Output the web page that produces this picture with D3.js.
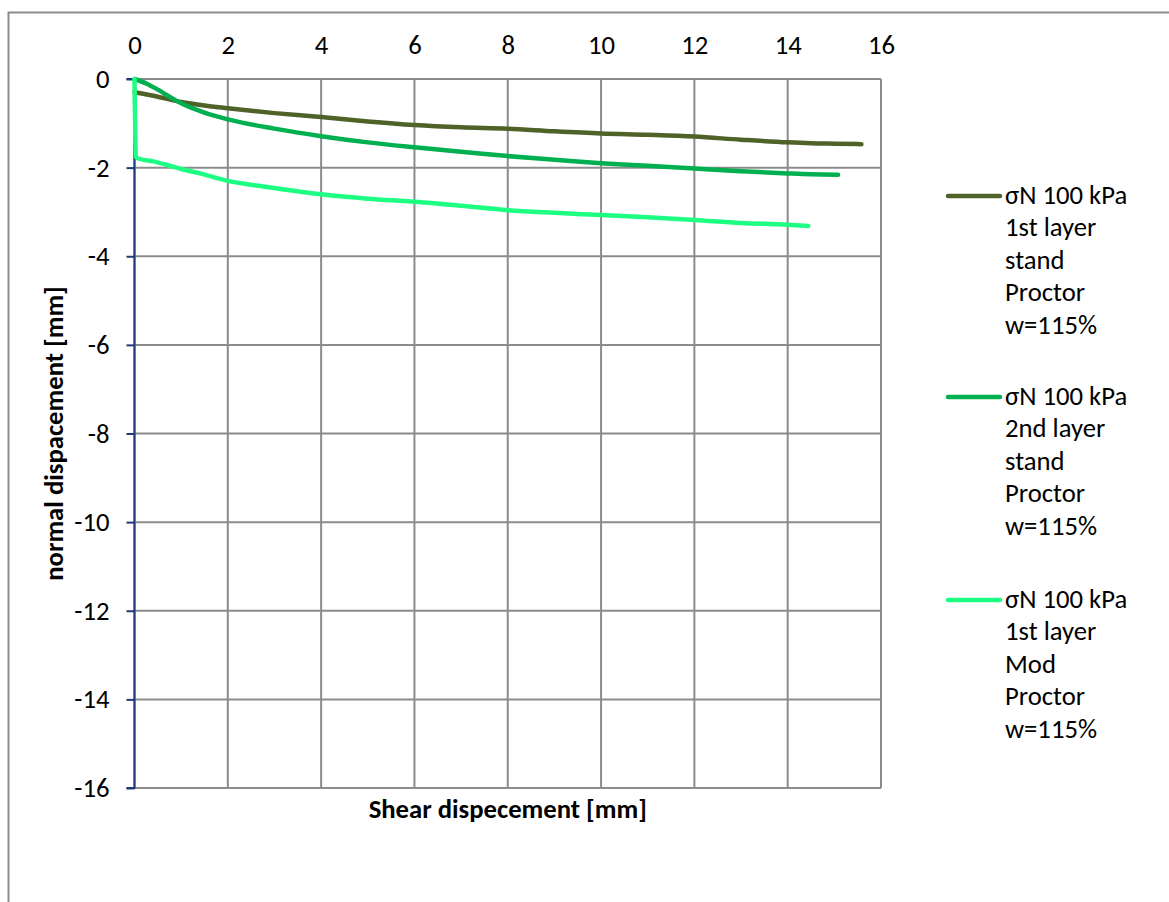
<!DOCTYPE html>
<html>
<head>
<meta charset="utf-8">
<script src="https://cdn.jsdelivr.net/npm/d3@7"></script>
<style>
  html, body { margin: 0; padding: 0; background: #fff; }
  svg { display: block; }
  text { font-family: Carlito, "Open Sans", Lato, sans-serif; fill: #000; }
</style>
</head>
<body>
<svg id="chart" width="1169" height="902"></svg>
<script>
// Shear displacement [mm] vs normal displacement [mm], three direct shear tests
const xTicks = [0, 2, 4, 6, 8, 10, 12, 14, 16];
const yTicks = [0, -2, -4, -6, -8, -10, -12, -14, -16];

const s1x = [0, 0.5, 1, 1.5, 2, 3, 4, 5, 6, 7, 8, 9, 10, 11, 12, 13, 14, 14.5, 15, 15.58];
const s1y = [-0.30, -0.40, -0.52, -0.60, -0.66, -0.77, -0.86, -0.96, -1.04, -1.09, -1.12, -1.18, -1.23, -1.26, -1.30, -1.37, -1.43, -1.45, -1.46, -1.47];

const s2x = [0, 0.25, 0.5, 0.75, 1, 1.5, 2, 3, 4, 5, 6, 7, 8, 9, 10, 11, 12, 13, 14, 14.5, 15.08];
const s2y = [0, -0.10, -0.24, -0.40, -0.55, -0.76, -0.91, -1.12, -1.29, -1.43, -1.54, -1.64, -1.74, -1.82, -1.90, -1.96, -2.02, -2.08, -2.13, -2.15, -2.16];

const s3x = [0, 0.03, 0.1, 0.4, 0.7, 1, 1.4, 2, 2.8, 4, 5, 6, 7, 8, 9, 10, 11, 12, 13, 14, 14.44];
const s3y = [0, -1.76, -1.80, -1.86, -1.94, -2.03, -2.13, -2.30, -2.43, -2.60, -2.70, -2.77, -2.86, -2.96, -3.02, -3.07, -3.12, -3.18, -3.25, -3.29, -3.32];

const seriesNames = [
  ["σN 100 kPa", "1st layer", "stand", "Proctor", "w=115%"],
  ["σN 100 kPa", "2nd layer", "stand", "Proctor", "w=115%"],
  ["σN 100 kPa", "1st layer", "Mod", "Proctor", "w=115%"]
];
const seriesColors = ["#4F6228", "#00B050", "#1CFF82"];

const series = [
  s1x.map((x, i) => ({x, y: s1y[i]})),
  s2x.map((x, i) => ({x, y: s2y[i]})),
  s3x.map((x, i) => ({x, y: s3y[i]}))
];

const FONT = "Carlito, 'Open Sans', Lato, sans-serif";
const FS = "26.7px";
const svg = d3.select("#chart");
const plot = {left: 134.5, right: 881, top: 79, bottom: 788};

const x = d3.scaleLinear().domain([0, 16]).range([plot.left, plot.right]);
const y = d3.scaleLinear().domain([-16, 0]).range([plot.bottom, plot.top]);

// chart frame
svg.append("rect")
  .attr("x", 8.5).attr("y", 12.5)
  .attr("width", 1200).attr("height", 1000)
  .attr("fill", "none").attr("stroke", "#8c8c8c").attr("stroke-width", 2);

// gridlines
const grid = svg.append("g").attr("stroke", "#8c8c8c").attr("stroke-width", 2);
grid.selectAll("line.v").data(xTicks).join("line")
  .attr("x1", d => x(d)).attr("x2", d => x(d))
  .attr("y1", plot.top).attr("y2", plot.bottom);
grid.selectAll("line.h").data(yTicks).join("line")
  .attr("x1", plot.left).attr("x2", plot.right)
  .attr("y1", d => y(d)).attr("y2", d => y(d));

// top x axis labels
const xAxis = d3.axisTop(x).tickValues(xTicks).tickSize(0).tickPadding(25)
  .tickFormat(d3.format("d"));
const gx = svg.append("g").attr("transform", `translate(0,${plot.top})`).call(xAxis);
gx.select(".domain").remove();
gx.selectAll("text").style("font-size", FS).style("font-family", FONT);

// left y axis
const yAxis = d3.axisLeft(y).tickValues(yTicks).tickSize(8).tickPadding(17)
  .tickFormat(d3.format("d"));
const gy = svg.append("g").attr("transform", `translate(${plot.left},0)`).call(yAxis);
gy.select(".domain").attr("stroke", "#1F3A7A").attr("stroke-width", 2)
  .attr("d", `M-8,${plot.top}H0V${plot.bottom}H-8`);
gy.selectAll(".tick line").attr("stroke", "#1F3A7A").attr("stroke-width", 2);
gy.selectAll("text").style("font-size", FS).style("font-family", FONT)
  .text(d => d === 0 ? "0" : "-" + Math.abs(d));

// data lines
const line = d3.line().x(d => x(d.x)).y(d => y(d.y)).curve(d3.curveMonotoneX);
svg.append("g").selectAll("path").data(series).join("path")
  .attr("d", line)
  .attr("fill", "none")
  .attr("stroke", (d, i) => seriesColors[i])
  .attr("stroke-width", 4.5)
  .attr("stroke-linecap", "round")
  .attr("stroke-linejoin", "round");

// axis titles
svg.append("text")
  .attr("x", (plot.left + plot.right) / 2).attr("y", 818)
  .attr("text-anchor", "middle")
  .style("font-size", FS).style("font-weight", "bold")
  .text("Shear dispecement [mm]");

svg.append("text")
  .attr("transform", `translate(63,${(plot.top + plot.bottom) / 2}) rotate(-90)`)
  .attr("text-anchor", "middle")
  .style("font-size", FS).style("font-weight", "bold")
  .text("normal dispacement [mm]");

// legend
const legendTop = [196, 397, 600];
const legend = svg.append("g");
seriesNames.forEach((lines, i) => {
  const g = legend.append("g").attr("transform", `translate(0,${legendTop[i]})`);
  g.append("line")
    .attr("x1", 948).attr("x2", 1000).attr("y1", 0).attr("y2", 0)
    .attr("stroke", seriesColors[i]).attr("stroke-width", 4.5)
    .attr("stroke-linecap", "round");
  g.selectAll("text").data(lines).join("text")
    .attr("x", 1005).attr("y", (d, k) => 7.5 + k * 32.6)
    .style("font-size", FS)
    .text(d => d);
});
</script>
</body>
</html>
